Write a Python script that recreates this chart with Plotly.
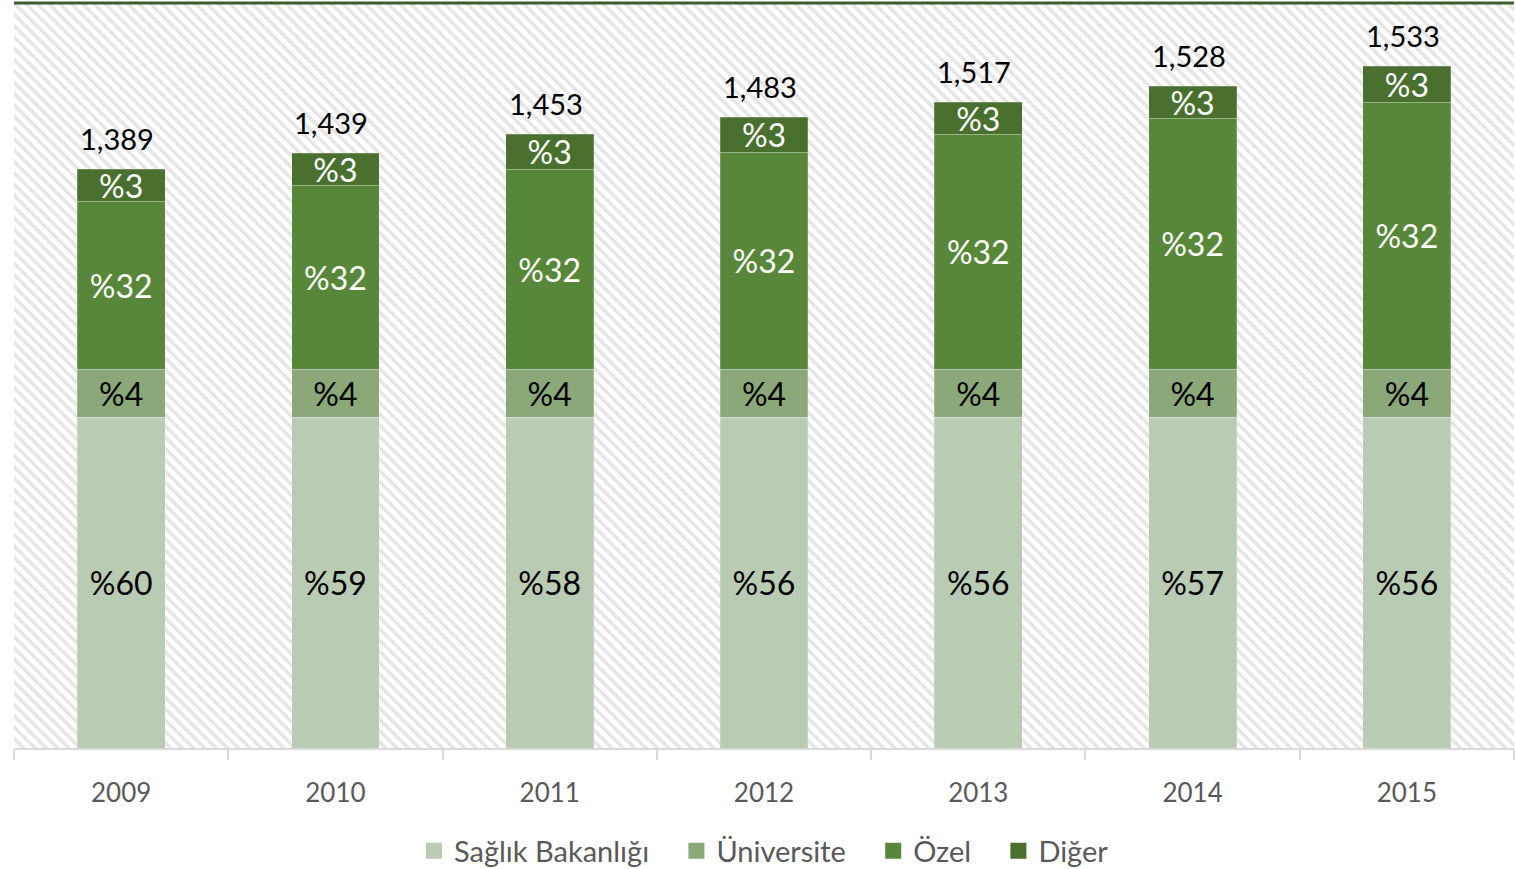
import plotly.graph_objects as go

# ---- data ----
years = ["2009", "2010", "2011", "2012", "2013", "2014", "2015"]
series_names = ["Sağlık Bakanlığı", "Üniversite", "Özel", "Diğer"]
# segment heights as drawn in the chart (chart units)
saglik_h = [331, 331, 331, 331, 331, 331, 331]
univ_h = [48, 48, 48, 48, 48, 48, 48]
ozel_h = [168, 184, 200, 217, 235, 251, 267]
diger_h = [32, 32, 35, 35, 32, 32, 36]
# percentage labels
saglik_pct = [60, 59, 58, 56, 56, 57, 56]
univ_pct = [4, 4, 4, 4, 4, 4, 4]
ozel_pct = [32, 32, 32, 32, 32, 32, 32]
diger_pct = [3, 3, 3, 3, 3, 3, 3]
# totals (number of hospitals)
totals = [1389, 1439, 1453, 1483, 1517, 1528, 1533]

colors = ["#BACBB4", "#8AA878", "#58873A", "#4A702F"]
text_colors = ["#000000", "#000000", "#FFFFFF", "#FFFFFF"]
FONT = "Lato, 'Open Sans', sans-serif"
NBSP = "\u00a0"

fig = go.Figure()

# hatched plot background on base axes
fig.add_trace(go.Scatter(
    x=[0, 1, 1, 0, 0], y=[0, 0, 1, 1, 0], mode="lines",
    fill="toself", fillcolor="#FFFFFF",
    fillpattern=dict(shape="\\", fgcolor="#CCCCCC", bgcolor="#FFFFFF",
                     size=8, solidity=0.45),
    line=dict(width=0), hoverinfo="skip", showlegend=False,
    xaxis="x", yaxis="y"))

heights = [saglik_h, univ_h, ozel_h, diger_h]
pcts = [saglik_pct, univ_pct, ozel_pct, diger_pct]
for k, (name, h, p, c, tc) in enumerate(zip(series_names, heights, pcts, colors, text_colors)):
    fig.add_trace(go.Bar(
        x=years, y=h, name=name, legendgroup=name, showlegend=False,
        marker=dict(color=c, line=dict(width=0.6, color="rgba(255,255,255,0.35)")),
        text=[f"%{v}" for v in p], textposition="inside",
        insidetextanchor="middle", constraintext="none",
        textfont=dict(family=FONT, size=32, color=tc),
        xaxis="x2", yaxis="y2", hoverinfo="skip"))
    # legend proxy with a larger square swatch
    pad = NBSP * 3 if k < len(series_names) - 1 else ""
    fig.add_trace(go.Scatter(
        x=[None], y=[None], mode="markers", name=name + pad, legendgroup=name,
        marker=dict(symbol="square", size=18, color=c),
        xaxis="x2", yaxis="y2", hoverinfo="skip"))

stack_tops = [a + b + c + d for a, b, c, d in zip(saglik_h, univ_h, ozel_h, diger_h)]
for i, (top, tot) in enumerate(zip(stack_tops, totals)):
    fig.add_annotation(x=i, y=top, xref="x2", yref="y2", text=f"{tot:,}",
                       showarrow=False, yanchor="bottom", yshift=11, xshift=-4,
                       font=dict(family=FONT, size=29, color="#000000"))

fig.add_shape(type="line", xref="paper", yref="paper", x0=0, x1=1, y0=1, y1=1,
              line=dict(color="#3B5E2B", width=3))

fig.update_layout(
    width=1516, height=869,
    margin=dict(l=14, r=2, t=3, b=121, autoexpand=False),
    paper_bgcolor="#FFFFFF", plot_bgcolor="#FFFFFF",
    barmode="stack", bargap=0.59,
    xaxis=dict(range=[0, 1], visible=False, fixedrange=True),
    yaxis=dict(range=[0, 1], visible=False, fixedrange=True),
    xaxis2=dict(type="category", overlaying="x", anchor="y2", range=[-0.5, 6.5],
                showline=True, linecolor="#D9D9D9", linewidth=2,
                ticks="outside", tickson="boundaries", ticklen=10,
                tickcolor="#D9D9D9", tickwidth=2, showgrid=False,
                ticklabelstandoff=21,
                tickfont=dict(family=FONT, size=26, color="#595959")),
    yaxis2=dict(overlaying="y", anchor="x2", range=[0, 745], visible=False),
    legend=dict(orientation="h", x=0.5, xanchor="center", y=-0.138, yanchor="middle",
                font=dict(family=FONT, size=29, color="#595959"),
                traceorder="normal", itemwidth=30),
    showlegend=True,
)

fig.write_html("out.html", config={"displayModeBar": False},
               post_script="document.body.style.margin='0px';")
